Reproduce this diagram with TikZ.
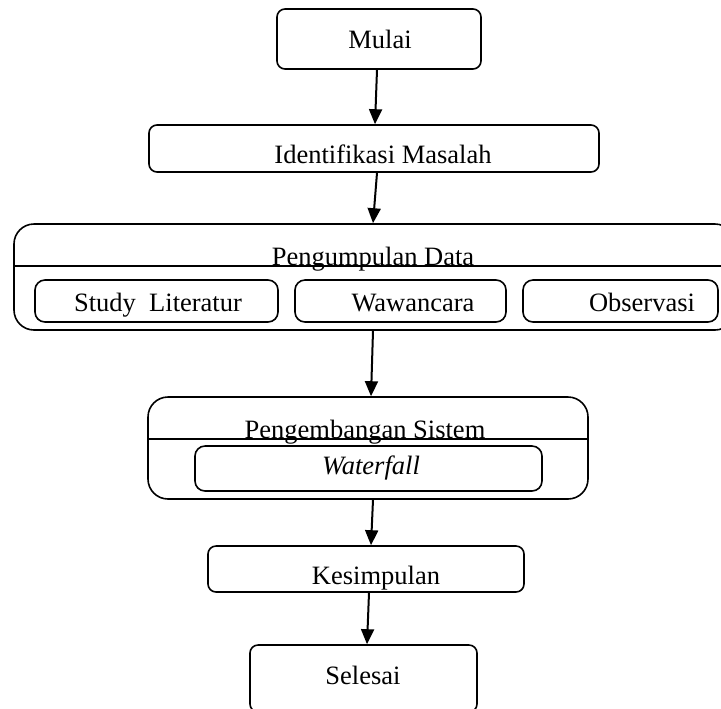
\documentclass[tikz,border=0pt]{standalone}
\usepackage{fontspec}
\setmainfont{Liberation Serif}
\usetikzlibrary{arrows.meta}
\tikzset{
  box/.style={draw, line width=.8pt, rounded corners=4pt, inner sep=0pt},
  bigbox/.style={box, rounded corners=10pt},
  txt/.style={anchor=base, inner sep=0pt, font=\fontsize{13.25}{15}\selectfont},
  flow/.style={line width=1pt, -{Triangle[length=7.5pt,width=6.5pt]}}
}

\begin{document}
\begin{tikzpicture}[x=.5pt, y=-.5pt]
  \useasboundingbox (0,0) rectangle (721,708);

  \node [box, minimum width=102pt, minimum height=30pt] (mulai) at (379,39) {};
  \node [txt] (mulai-t) at (380,48) {Mulai};

  \node [box, minimum width=225pt, minimum height=23.5pt] (ident) at (374,148.5) {};
  \node [txt] (ident-t) at (383,163) {Identifikasi Masalah};

  % pengumpulan data
  \node [bigbox, minimum width=360.5pt, minimum height=53pt] (kumpul) at (374.5,277) {};
  \draw [line width=.8pt] (kumpul.west |- 0,266) -- (kumpul.east |- 0,266);
  \node [txt] (kumpul-t) at (373,265) {Pengumpulan Data};
  \foreach \nm/\cx/\w/\tx/\lbl in {study/156.5/121.5/158/{Study\ \ Literatur},
      waw/400.5/105.5/413/Wawancara, obs/620.5/97.5/642/Observasi} {
    \node [box, rounded corners=5pt, minimum width=\w pt, minimum height=21pt] (\nm) at (\cx,301) {};
    \node [txt] (\nm-t) at (\tx,311) {\lbl};
  }

  % pengembangan sistem
  \node [bigbox, minimum width=220pt, minimum height=51pt] (kembang) at (368,448) {};
  \draw [line width=.8pt] (kembang.west |- 0,439) -- (kembang.east |- 0,439);
  \node [txt] (kembang-t) at (365,438) {Pengembangan Sistem};
  \node [box, rounded corners=5pt, minimum width=173.5pt, minimum height=22.5pt] (wf) at (368.5,468.5) {};
  \node [txt] (wf-t) at (371,474) {\itshape Waterfall};

  \node [box, minimum width=158pt, minimum height=23pt] (kes) at (366,569) {};
  \node [txt] (kes-t) at (376,584) {Kesimpulan};

  \node [box, minimum width=113.5pt, minimum height=33.5pt] (selesai) at (363.5,678.5) {};
  \node [txt] (selesai-t) at (363,684) {Selesai};

  \draw [flow] ([xshift=-1pt]mulai.south) -- ([xshift=.5pt]ident.north);
  \draw [flow] ([xshift=1.5pt]ident.south) -- ([xshift=-.75pt]kumpul.north);
  \draw [flow] ([xshift=-.75pt]kumpul.south) -- ([xshift=1.5pt]kembang.north);
  \draw [flow] ([xshift=2.5pt]kembang.south) -- ([xshift=2.5pt]kes.north);
  \draw [flow] ([xshift=1.5pt]kes.south) -- ([xshift=1.75pt]selesai.north);

\end{tikzpicture}
\end{document}
